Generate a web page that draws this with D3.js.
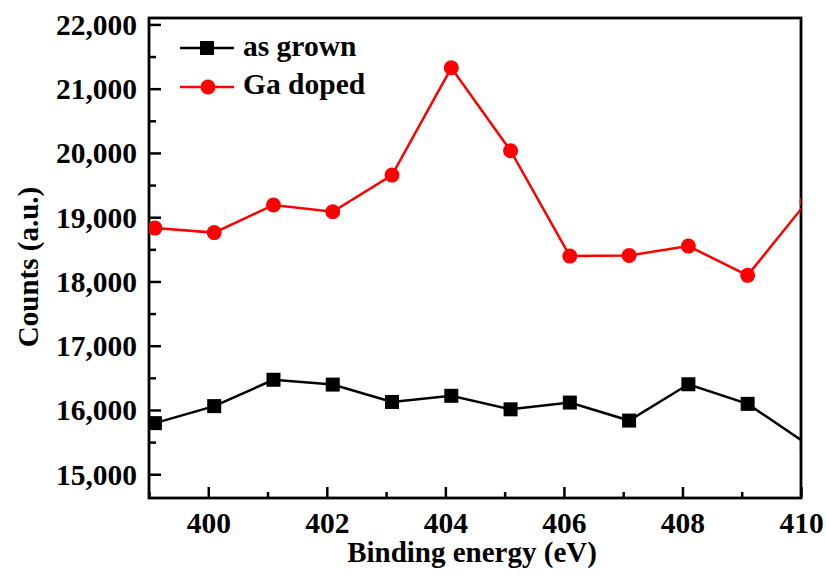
<!DOCTYPE html>
<html>
<head>
<meta charset="utf-8">
<script src="https://cdn.jsdelivr.net/npm/d3@7"></script>
<style>
  body { margin: 0; background: #fff; }
  text { font-family: "Liberation Serif", "Times New Roman", serif; font-weight: bold; }
</style>
</head>
<body>
<svg id="chart"></svg>
<script>
// binding energy positions (eV)
var energy = [399.1, 400.1, 401.1, 402.1, 403.1, 404.1, 405.1, 406.1, 407.1, 408.1, 409.1, 410.1];
// counts
var asGrown = [15795, 16060, 16470, 16395, 16125, 16220, 16010, 16115, 15835, 16400, 16095, 15470];
var gaDoped = [18830, 18760, 19190, 19085, 19655, 21325, 20035, 18395, 18405, 18550, 18095, 19240];
var xTicks = [400, 402, 404, 406, 408, 410];
var yTicks = [15000, 16000, 17000, 18000, 19000, 20000, 21000, 22000];

var screen = {width: 826, height: 578};
var margins = {left: 149, right: 25, top: 18, bottom: 80};
var width = screen.width - margins.left - margins.right;
var height = screen.height - margins.top - margins.bottom;
var fs = "29.5px";

var svg = d3.select("#chart")
    .attr("width", screen.width)
    .attr("height", screen.height);

var xScale = d3.scaleLinear().domain([399, 410]).range([0, width]);
var yScale = d3.scaleLinear().domain([14630, 22100]).range([height, 0]);

var g = svg.append("g")
    .attr("transform", "translate(" + margins.left + "," + margins.top + ")");

g.append("clipPath").attr("id", "clip")
  .append("rect").attr("width", width).attr("height", height);

// minor ticks
var xMinor = d3.range(399, 411, 1).filter(function(d){ return xTicks.indexOf(d) < 0; });
var yMinor = d3.range(15500, 22100, 1000);

g.append("g").attr("transform", "translate(0," + height + ")")
  .call(d3.axisBottom(xScale).tickValues(xMinor).tickSize(-6).tickFormat(""))
  .call(function(a){ a.select(".domain").remove(); a.selectAll("line").attr("stroke-width", 2.5); });
g.append("g")
  .call(d3.axisLeft(yScale).tickValues(yMinor).tickSize(-7).tickFormat(""))
  .call(function(a){ a.select(".domain").remove(); a.selectAll("line").attr("stroke-width", 2.5); });

// major ticks
var xAxis = g.append("g").attr("transform", "translate(0," + height + ")")
  .call(d3.axisBottom(xScale).tickValues(xTicks).tickSize(-11).tickPadding(14).tickFormat(d3.format("d")));
xAxis.select(".domain").remove();
xAxis.selectAll("line").attr("stroke-width", 2.5);
xAxis.selectAll("text").attr("font-size", fs).attr("fill", "#000");

var yAxis = g.append("g")
  .call(d3.axisLeft(yScale).tickValues(yTicks).tickSize(-12).tickPadding(12).tickFormat(d3.format(",")));
yAxis.select(".domain").remove();
yAxis.selectAll("line").attr("stroke-width", 2.5);
yAxis.selectAll("text").attr("font-size", fs).attr("fill", "#000").attr("dy", "0.34em");

// frame
g.append("rect")
  .attr("width", width).attr("height", height)
  .attr("fill", "none").attr("stroke", "#000").attr("stroke-width", 2.8);

var line = d3.line()
  .x(function(d, i){ return xScale(energy[i]); })
  .y(function(d){ return yScale(d); });

var plot = g.append("g").attr("clip-path", "url(#clip)");

plot.append("path").datum(asGrown)
  .attr("d", line).attr("fill", "none").attr("stroke", "#000").attr("stroke-width", 2.5);
plot.selectAll(".sq").data(asGrown).enter().append("rect")
  .attr("x", function(d, i){ return xScale(energy[i]) - 7; })
  .attr("y", function(d){ return yScale(d) - 7; })
  .attr("width", 14).attr("height", 14).attr("fill", "#000");

plot.append("path").datum(gaDoped)
  .attr("d", line).attr("fill", "none").attr("stroke", "#ff0000").attr("stroke-width", 2.5);
plot.selectAll(".ci").data(gaDoped).enter().append("circle")
  .attr("cx", function(d, i){ return xScale(energy[i]); })
  .attr("cy", function(d){ return yScale(d); })
  .attr("r", 7.5).attr("fill", "#ff0000");

// legend
var legend = g.append("g").attr("transform", "translate(31,30)");
legend.append("line").attr("x1", 0).attr("x2", 54).attr("y1", 0).attr("y2", 0)
  .attr("stroke", "#000").attr("stroke-width", 2.5);
legend.append("rect").attr("x", 20).attr("y", -7).attr("width", 14).attr("height", 14).attr("fill", "#000");
legend.append("text").attr("x", 63).attr("y", 8).attr("font-size", fs).text("as grown");

legend.append("line").attr("x1", 0).attr("x2", 54).attr("y1", 39).attr("y2", 39)
  .attr("stroke", "#ff0000").attr("stroke-width", 2.5);
legend.append("circle").attr("cx", 28).attr("cy", 39).attr("r", 7.5).attr("fill", "#ff0000");
legend.append("text").attr("x", 63).attr("y", 46).attr("font-size", fs).text("Ga doped");

// axis titles
svg.append("text")
  .attr("x", 472).attr("y", 562)
  .attr("text-anchor", "middle").attr("font-size", "29px")
  .text("Binding energy (eV)");

svg.append("text")
  .attr("transform", "translate(38,267) rotate(-90)")
  .attr("text-anchor", "middle").attr("font-size", "29px")
  .text("Counts (a.u.)");
</script>
</body>
</html>
